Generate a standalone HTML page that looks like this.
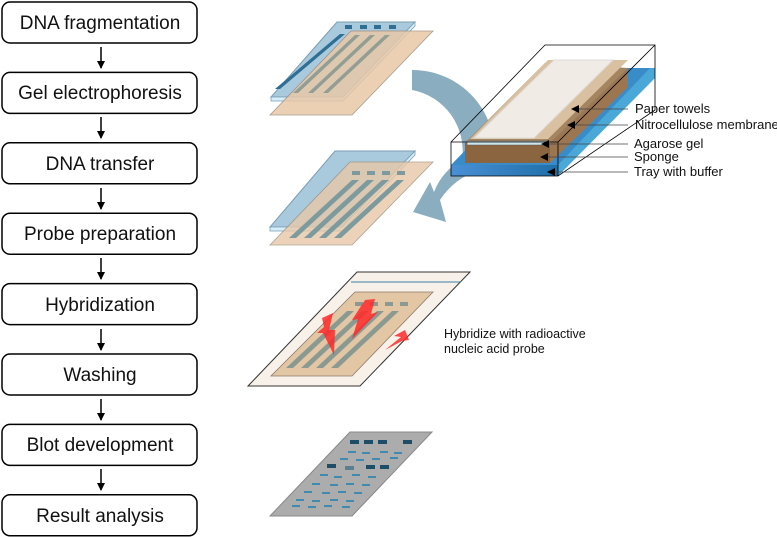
<!DOCTYPE html><html><head><style>body{margin:0;background:#fff}svg{display:block}text{font-family:"Liberation Sans",sans-serif}</style></head><body>
<svg width="777" height="537" viewBox="0 0 777 537" xmlns="http://www.w3.org/2000/svg">
<defs>
<marker id="ah" markerWidth="8" markerHeight="8" refX="7" refY="4" orient="auto" markerUnits="userSpaceOnUse"><path d="M0,0 L8,4 L0,8 z" fill="#000"/></marker>
<linearGradient id="tray" x1="0" x2="1"><stop offset="0" stop-color="#4a8fd6"/><stop offset="1" stop-color="#1e6fa8"/></linearGradient>
</defs>
<g fill="none" stroke="#000" stroke-width="1.5">
<rect x="2" y="2" width="195" height="41" rx="8"/>
<rect x="2" y="72.4" width="195" height="41" rx="8"/>
<rect x="2" y="142.8" width="195" height="41" rx="8"/>
<rect x="2" y="213.2" width="195" height="41" rx="8"/>
<rect x="2" y="283.6" width="195" height="41" rx="8"/>
<rect x="2" y="354" width="195" height="41" rx="8"/>
<rect x="2" y="424.4" width="195" height="41" rx="8"/>
<rect x="2" y="494.8" width="195" height="41" rx="8"/>
</g>
<g stroke="#000" stroke-width="1.5" marker-end="url(#ah)">
<line x1="101" y1="47" x2="101" y2="68"/><line x1="101" y1="117" x2="101" y2="138"/><line x1="101" y1="188" x2="101" y2="209"/><line x1="101" y1="258" x2="101" y2="279"/><line x1="101" y1="329" x2="101" y2="350"/><line x1="101" y1="399" x2="101" y2="420"/><line x1="101" y1="469" x2="101" y2="490"/>
</g>
<g font-size="19" text-anchor="middle" fill="#111">
<text x="100" y="29">DNA fragmentation</text><text x="100" y="99">Gel electrophoresis</text><text x="100" y="170">DNA transfer</text><text x="100" y="240">Probe preparation</text><text x="100" y="311">Hybridization</text><text x="100" y="381">Washing</text><text x="100" y="451">Blot development</text><text x="100" y="522">Result analysis</text>
</g>
<!-- curved arrow -->
<path d="M412,70 A82,82 0 0 1 492,172 L480,170 A72,72 0 0 0 440,200 L446,222 L413,212 L430,182 L434,192 A62,62 0 0 1 462,160 A62,62 0 0 0 412,90 Z" fill="#7ea4b9" opacity="0.9"/>
<!-- top gel -->
<polygon points="337,22 415,22 343,97 271,97" fill="#a9c9dc" stroke="#7a9fb5"/>
<polygon points="343,97 271,97 271,101 343,101 415,26 415,22" fill="#d6eef8" stroke="#7a9fb5" stroke-width="0.8"/>
<g fill="#2f6f94"><rect x="345" y="25" width="7" height="4"/><rect x="360" y="25" width="7" height="4"/><rect x="374" y="25" width="7" height="4"/><rect x="389" y="25" width="7" height="4"/></g>
<polygon points="340,34 345,34 280,89 275,89" fill="#2f6f94"/>
<polygon points="351,31 433,31 352,115 270,115" fill="#e8c8a8" opacity="0.85" stroke="#9a8a7a" stroke-width="0.8"/>
<g fill="#8a9a92" opacity="0.9"><polygon points="355,35 360,35 298,93 293,93"/><polygon points="370,35 375,35 313,93 308,93"/><polygon points="385,35 390,35 328,93 323,93"/></g>
<!-- middle gel -->
<polygon points="335,151 415,151 342,227 270,227" fill="#a9c9dc" stroke="#7a9fb5"/>
<polygon points="342,227 270,227 270,231 342,231 415,155 415,151" fill="#d6eef8" stroke="#7a9fb5" stroke-width="0.8"/>
<polygon points="350,162 433,162 352,245 270,245" fill="#e8c8a8" opacity="0.8" stroke="#9a8a7a" stroke-width="0.8"/>
<g fill="#7d9a9e"><rect x="352" y="171" width="8" height="4"/><rect x="367" y="171" width="8" height="4"/><rect x="382" y="171" width="8" height="4"/><rect x="397" y="171" width="8" height="4"/>
<polygon points="352,180 359,180 296,238 289,238"/><polygon points="367,180 374,180 311,238 304,238"/><polygon points="382,180 389,180 326,238 319,238"/><polygon points="397,180 404,180 341,238 334,238"/></g>
<!-- tray -->
<polygon points="451,165 545,68 655,68 655,70 558,176 451,176" fill="#3a8cc8"/>
<rect x="451" y="165" width="107" height="11" fill="url(#tray)"/>
<polygon points="558,165 650,68 655,68 655,78 558,176" fill="#4aa8d8"/>
<polygon points="465,143 550,143 550,163 465,163" fill="#8b6440"/>
<polygon points="550,143 628,68 628,87 550,163" fill="#9c7650"/>
<polygon points="465,143 545,63 628,68 550,143" fill="#a58560"/>
<rect x="467" y="141" width="80" height="4" fill="#cde6ee" stroke="#555" stroke-width="0.5"/>
<polygon points="470,139 548,60 628,60 548,139" fill="#d8c0a0"/>
<polygon points="474,138 554,60 613,60 534,138" fill="#f2eee8" opacity="0.95" stroke="#ddd"/>
<g fill="none" stroke="#000" stroke-width="0.8"><polyline points="451,142 545,45 655,45 655,110 558,176 451,176 451,142 558,142 655,45"/><line x1="558" y1="142" x2="558" y2="176"/></g>
<g stroke="#444" stroke-width="0.8" marker-end="url(#ah)"><line x1="628" y1="109" x2="572" y2="109"/><line x1="628" y1="125" x2="568" y2="125"/><line x1="628" y1="144" x2="542" y2="144"/><line x1="628" y1="157" x2="541" y2="157"/><line x1="628" y1="172" x2="548" y2="172"/></g>
<g font-size="13" fill="#111"><text x="635" y="113">Paper towels</text><text x="635" y="129">Nitrocellulose membrane</text><text x="634" y="148">Agarose gel</text><text x="634" y="161">Sponge</text><text x="634" y="176">Tray with buffer</text></g>
<!-- hybridize -->
<polygon points="357,272 470,272 360,386 248,386" fill="#f8f1ea" stroke="#333"/>
<line x1="351" y1="282" x2="461" y2="282" stroke="#3a7fa8"/>
<polygon points="355,292 433,292 352,376 271,376" fill="#e3c6a4" stroke="#8a7a6a" stroke-width="0.8"/>
<g fill="#8a9a92"><rect x="355" y="302" width="8" height="4"/><rect x="370" y="302" width="8" height="4"/><rect x="385" y="302" width="8" height="4"/><rect x="400" y="302" width="8" height="4"/>
<polygon points="347,311 354,311 293,368 286,368"/><polygon points="362,311 369,311 308,368 301,368"/><polygon points="377,311 384,311 323,368 316,368"/><polygon points="392,311 399,311 338,368 331,368"/></g>
<g fill="#ff2a2a" opacity="0.85"><polygon points="322,318 333,313 329,330 335,330 334,355 323,333 317,333 324,327"/><polygon points="365,300 375,299 371,314 378,312 352,339 358,319 352,320"/><polygon points="385,350 401,337 394,336 405,330 409,340 402,341"/></g>
<g font-size="12.5" fill="#111"><text x="444" y="338">Hybridize with radioactive</text><text x="444" y="353">nucleic acid probe</text></g>
<!-- blot -->
<polygon points="350,432 432,432 352,516 270,516" fill="#acacac" stroke="#888"/>
<g fill="#1f4c66"><rect x="350" y="440" width="9" height="4"/><rect x="364" y="440" width="9" height="4"/><rect x="378" y="440" width="9" height="4"/><rect x="403" y="440" width="9" height="4"/><rect x="327" y="464" width="9" height="4"/><rect x="366" y="465" width="9" height="4"/><rect x="380" y="465" width="9" height="4"/></g>
<g fill="#3f8ab0"><rect x="348" y="451" width="8" height="2"/><rect x="362" y="452" width="8" height="2"/><rect x="380" y="451" width="8" height="2"/><rect x="394" y="452" width="8" height="2"/><rect x="340" y="458" width="8" height="2"/><rect x="356" y="459" width="8" height="2"/><rect x="372" y="458" width="8" height="2"/><rect x="390" y="457" width="8" height="2"/><rect x="320" y="474" width="8" height="2"/><rect x="334" y="476" width="8" height="2"/><rect x="352" y="474" width="8" height="2"/><rect x="368" y="476" width="8" height="2"/><rect x="312" y="483" width="8" height="2"/><rect x="330" y="484" width="8" height="2"/><rect x="346" y="483" width="8" height="2"/><rect x="362" y="484" width="8" height="2"/><rect x="304" y="491" width="8" height="2"/><rect x="322" y="492" width="8" height="2"/><rect x="338" y="491" width="8" height="2"/><rect x="354" y="492" width="8" height="2"/><rect x="296" y="499" width="8" height="2"/><rect x="312" y="500" width="8" height="2"/><rect x="330" y="499" width="8" height="2"/><rect x="346" y="500" width="8" height="2"/><rect x="292" y="505" width="8" height="2"/><rect x="308" y="506" width="8" height="2"/><rect x="324" y="505" width="8" height="2"/><rect x="342" y="506" width="8" height="2"/></g>
<rect x="345" y="466" width="9" height="4" fill="#5a7f92"/>
</svg></body></html>
